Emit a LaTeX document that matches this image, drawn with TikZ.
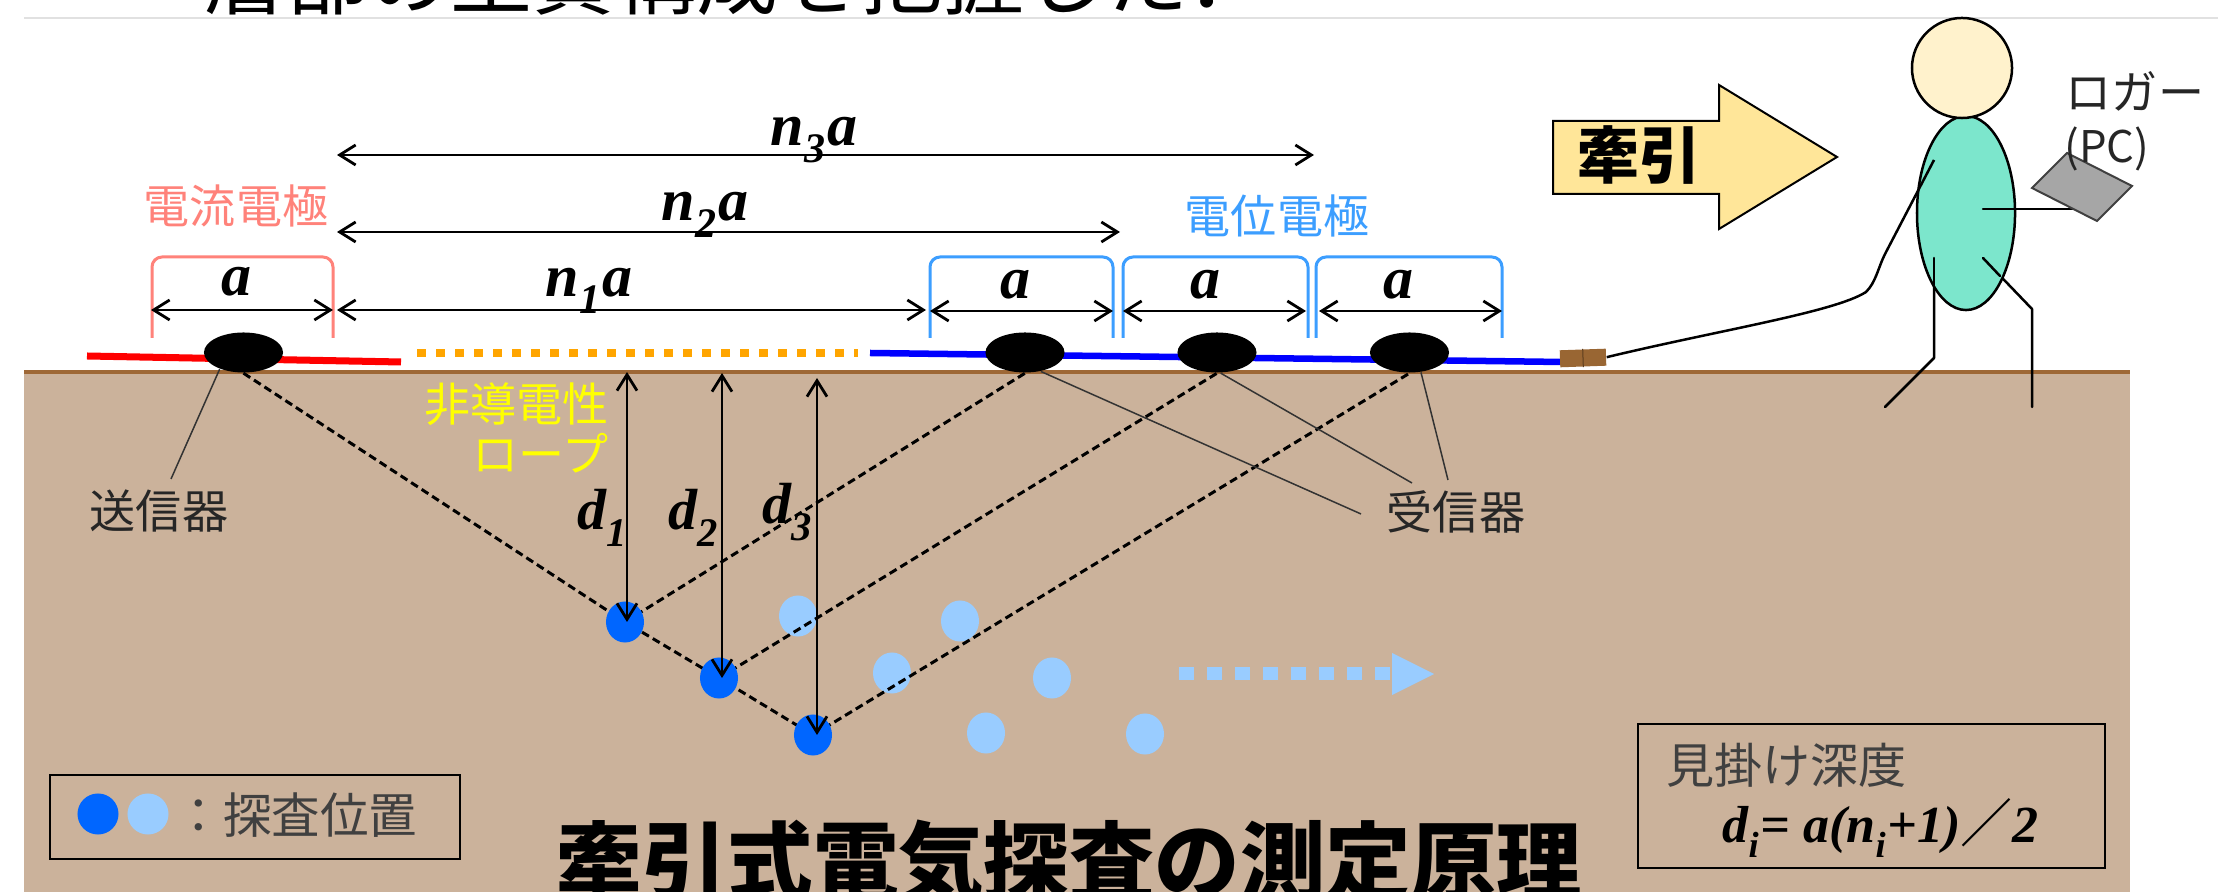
\documentclass[tikz,border=0pt]{standalone}
\usepackage{fontspec}
\setmainfont{Liberation Serif}
\newfontfamily\jp{Noto Sans CJK JP}
\usetikzlibrary{shapes.geometric,arrows.meta}
\pgfdeclarelayer{back}
\pgfdeclarelayer{mid}
\pgfsetlayers{back,mid,main}

\definecolor{soil}{RGB}{203,178,155}
\definecolor{soilline}{RGB}{158,104,54}
\definecolor{curred}{RGB}{255,0,0}
\definecolor{curpale}{RGB}{255,130,122}
\definecolor{potblue}{RGB}{0,0,255}
\definecolor{potpale}{RGB}{60,158,255}
\definecolor{rope}{RGB}{255,165,0}
\definecolor{ropetext}{RGB}{255,255,0}
\definecolor{probe}{RGB}{0,102,255}
\definecolor{probelight}{RGB}{153,204,255}
\definecolor{towfill}{RGB}{255,230,153}
\definecolor{headfill}{RGB}{255,242,204}
\definecolor{bodyfill}{RGB}{124,230,204}
\definecolor{plugbrown}{RGB}{153,102,51}
\definecolor{textgray}{RGB}{64,64,64}
\definecolor{rulegray}{RGB}{225,225,225}
\definecolor{pcgray}{RGB}{166,166,166}

\newcommand\jpfs[1]{\jp\fontsize{#1}{#1}\selectfont}
\newcommand\symfs[1]{\fontsize{#1}{#1}\selectfont\bfseries\itshape}
\newcommand\lowsub[1]{\raisebox{-0.12em}{\textsubscript{#1}}}

\begin{document}
\begin{tikzpicture}[x=0.01cm, y=-0.01cm,
  >={Straight Barb[length=0.16cm,width=0.2cm]},
  dimarrow/.style={<->, line width=0.028cm},
  raypath/.style={line width=0.03cm, dash pattern=on 0.08cm off 0.045cm},
  leaderline/.style={line width=0.015cm, draw=black!80},
  electrode/.style={ellipse, fill=black, inner sep=0pt, minimum width=0.79cm, minimum height=0.40cm},
  probedot/.style={ellipse, fill=probe, inner sep=0pt, minimum width=0.38cm, minimum height=0.41cm},
  lightdot/.style={probedot, fill=probelight},
  curbracket/.style={draw=curpale, line width=0.03cm, rounded corners=0.1cm},
  potbracket/.style={draw=potpale, line width=0.03cm, rounded corners=0.1cm},
  symlabel/.style={font=\symfs{17.07pt}, inner sep=0pt, anchor=base},
  depthlabel/.style={font=\symfs{16.5pt}, inner sep=0pt, anchor=base west},
  jplabel/.style={font=\jpfs{13.1pt}, inner sep=0pt},
  figline/.style={line width=0.025cm, line cap=round, line join=round}
]
\useasboundingbox (0,0) rectangle (2218,892);

% ---------- ground, rule and cables ----------
\begin{pgfonlayer}{back}
  \fill[white] (0,0) rectangle (2218,892);
  \fill[soil] (24,372) rectangle (2130,892);
  \draw[soilline, line width=0.04cm] (24,372) -- (2130,372);
  \draw[rulegray, line width=0.015cm] (24,18) -- (2218,18);
  \draw[curred, line width=0.07cm] (87,356) -- (401,362);
  \draw[rope, line width=0.08cm, dash pattern=on 0.085cm off 0.105cm] (417,353) -- (858,353);
  \draw[potblue, line width=0.065cm] (870,353) -- (1562,362);
\end{pgfonlayer}

% headline of the page, mostly outside the frame
\node[anchor=base west, inner sep=0pt, font=\jpfs{23.3pt}] (headline) at (204,9) {層部の土質構成を把握した．};

% ---------- electrodes ----------
\node[electrode] (tx) at (243.5,352.5) {};
\node[electrode] (rx1) at (1025,352.5) {};
\node[electrode] (rx2) at (1217,352.5) {};
\node[electrode] (rx3) at (1409.5,352.5) {};

% ---------- measuring points ----------
\node[probedot] (p1) at (625,622) {};
\node[probedot] (p2) at (719,678) {};
\node[probedot] (p3) at (813,735) {};

\begin{pgfonlayer}{mid}
  \node[lightdot] (q1) at (798,616) {};
  \node[lightdot] (q2) at (960,621) {};
  \node[lightdot] (q3) at (892,673) {};
  \node[lightdot] (q4) at (1052,678) {};
  \node[lightdot] (q5) at (986,733) {};
  \node[lightdot] (q6) at (1145,734) {};
  \draw[raypath] (tx.south) -- (p1.center) -- (p2.center) -- (p3.center);
  \draw[raypath] (p1.center) -- (rx1.south);
  \draw[raypath] (p2.center) -- (rx2.south);
  \draw[raypath] (p3.center) -- (rx3.south);
  % leaders to the device labels
  \node[jplabel, text=black!85] (txlabel) at (159,511) {送信器};
  \node[jplabel, text=black!85] (rxlabel) at (1456,512) {受信器};
  \coordinate (txend) at (171,479);
  \coordinate (rxend1) at (1361,514);
  \coordinate (rxend2) at (1412,483);
  \coordinate (rxend3) at (1448,480);
  \draw[leaderline] (tx.-145) -- (txend);
  \draw[leaderline] (rx1.-50) -- (rxend1);
  \draw[leaderline] (rx2.-80) -- (rxend2);
  \draw[leaderline] (rx3.-60) -- (rxend3);
\end{pgfonlayer}

% ---------- apparent depths ----------
\coordinate (g1) at (627,372);
\coordinate (g2) at (722,373);
\coordinate (g3) at (817,378);
\draw[dimarrow] (g1) -- (g1 |- p1.center);
\draw[dimarrow] (g2) -- (g2 |- p2.center);
\draw[dimarrow] (g3) -- (g3 |- p3.center);
\node[depthlabel] (dl1) at (577,530) {d\lowsub{1}};
\node[depthlabel] (dl2) at (668,530) {d\lowsub{2}};
\node[depthlabel] (dl3) at (762,524) {d\lowsub{3}};

\node[jplabel, text=ropetext, align=right, anchor=east,
      font=\jp\fontsize{13.1pt}{14.2pt}\selectfont] (ropelabel) at (609,428) {非導電性\\ロープ};

% ---------- electrode brackets ----------
\draw[curbracket] (152,338) -- (152,257) -- (333,257) -- (333,338);
\draw[potbracket] (930,338) -- (930,257) -- (1113,257) -- (1113,338);
\draw[potbracket] (1123,338) -- (1123,257) -- (1308,257) -- (1308,338);
\draw[potbracket] (1316,338) -- (1316,257) -- (1502,257) -- (1502,338);
\node[jplabel, text=curpale] (curlabel) at (236,206) {電流電極};
\node[jplabel, text=potpale] (potlabel) at (1277,216) {電位電極};

% ---------- spacing dimensions ----------
\coordinate (aL0) at (151,310);  \coordinate (aR0) at (333,310);
\coordinate (aL1) at (930,311);  \coordinate (aR1) at (1113,311);
\coordinate (aL2) at (1123,311); \coordinate (aR2) at (1306,311);
\coordinate (aL3) at (1319,311); \coordinate (aR3) at (1502,311);
\coordinate (n1L) at (337,310);  \coordinate (n1R) at (926,310);
\coordinate (n2L) at (337,232);  \coordinate (n2R) at (1120,232);
\coordinate (n3L) at (337,155);  \coordinate (n3R) at (1314,155);
\draw[dimarrow] (aL0) -- (aR0);
\draw[dimarrow] (aL1) -- (aR1);
\draw[dimarrow] (aL2) -- (aR2);
\draw[dimarrow] (aL3) -- (aR3);
\draw[dimarrow] (n1L) -- (n1R);
\draw[dimarrow] (n2L) -- (n2R);
\draw[dimarrow] (n3L) -- (n3R);
\node[symlabel] (la0) at (237,296) {a};
\node[symlabel] (la1) at (1015,299) {a};
\node[symlabel] (la2) at (1205,299) {a};
\node[symlabel] (la3) at (1398,299) {a};
\node[symlabel] (ln1) at (589,297) {n\lowsub{1}a};
\node[symlabel] (ln2) at (705,221) {n\lowsub{2}a};
\node[symlabel] (ln3) at (814,146) {n\lowsub{3}a};

% ---------- direction of survey ----------
\draw[probelight, line width=0.13cm, dash pattern=on 0.145cm off 0.135cm] (1179,674) -- (1390,674);
\fill[probelight] (1392,653) -- (1434,674) -- (1392,695) -- cycle;

% ---------- legend ----------
\draw[line width=0.025cm] (50,775) rectangle (460,859);
\node[probedot, minimum width=0.41cm, minimum height=0.41cm] (lg1) at (98,814) {};
\node[lightdot, minimum width=0.41cm, minimum height=0.41cm] (lg2) at (148,814) {};
\node[jplabel, anchor=west, text=textgray, font=\jpfs{13.8pt}] (lgtext) at (174,815) {：探査位置};

% ---------- apparent depth formula ----------
\draw[line width=0.025cm] (1638,724) rectangle (2105,868);
\node[jplabel, anchor=west, text=textgray, font=\jpfs{13.66pt}] (fmhead) at (1666,765) {見掛け深度};
\node[anchor=base west, inner sep=0pt, font=\symfs{14.8pt}] (fmbody) at (1722,843)
  {d\lowsub{i}= a(n\lowsub{i}+1){\jp\upshape\mdseries ／}2};

% ---------- title ----------
\node[anchor=base west, inner sep=0pt, font=\jpfs{24.3pt}\bfseries] (title) at (556,894) {牽引式電気探査の測定原理};

% ---------- towing arrow ----------
\draw[fill=towfill, line width=0.02cm, line join=miter]
  (1553,121) -- (1719,121) -- (1719,85) -- (1837,157) -- (1719,229) -- (1719,194) -- (1553,194) -- cycle;
\node[inner sep=0pt, font=\jpfs{17.6pt}\bfseries] (towlabel) at (1639,155) {牽引};

% ---------- operator with logger ----------
\draw[figline] (1934,258) -- (1934,358) -- (1885,407);
\draw[figline] (1983,258) -- (2032,309) -- (2032,407);
\draw[figline, fill=bodyfill] (1966,213) ellipse [x radius=0.49cm, y radius=0.97cm];
\draw[figline, fill=headfill] (1962,68) circle [radius=0.5cm];
\draw[figline] (1934,258) -- (1934,300);
\draw[figline] (1983,258) -- (2000,276);
\draw[figline] (1983,209) -- (2073,209);
\draw[line width=0.02cm, draw=black!75, fill=pcgray] (2032,188) -- (2067,153) -- (2132,186) -- (2097,221) -- cycle;
\node[jplabel, text=black!85] (loggerlabel) at (2135,91) {ロガー};
\node[jplabel, text=black!85, font=\jpfs{12.4pt}] (pclabel) at (2107,149) {(PC)};

% ---------- plug and tow cable ----------
\node[fill=plugbrown, minimum width=0.46cm, minimum height=0.17cm, inner sep=0pt, rotate=2] (plug) at (1583,358) {};
\draw[plugbrown!60!black, line width=0.01cm] (plug.north) -- (plug.south);
\draw[line width=0.025cm] (plug.east) .. controls (1720,330) and (1835,312) .. (1866,292)
  .. controls (1876,282) and (1878,268) .. (1885,254) -- (1934,160);

\end{tikzpicture}
\end{document}
